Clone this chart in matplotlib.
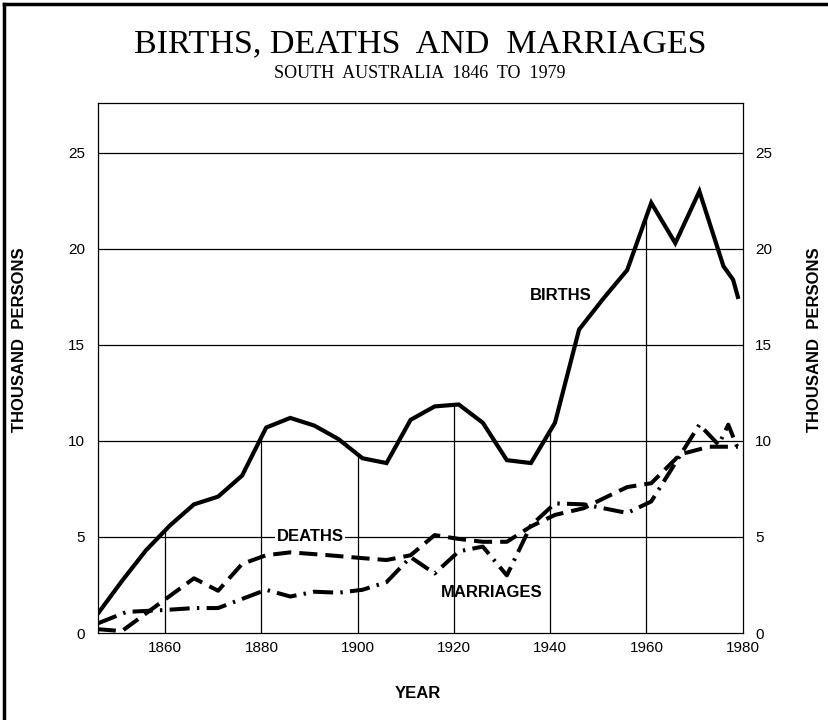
import numpy as np
import matplotlib
matplotlib.use('Agg')
import matplotlib.pyplot as plt
from matplotlib.lines import Line2D

# values, thousand persons
birth_years = [1846, 1851, 1856, 1861, 1866, 1871, 1876, 1881, 1886, 1891, 1896, 1901,
               1906, 1911, 1916, 1921, 1926, 1931, 1936, 1941, 1946, 1951, 1956, 1961,
               1966, 1971, 1976, 1978, 1979]
births = [1.0, 2.7, 4.3, 5.6, 6.7, 7.1, 8.2, 10.7, 11.2, 10.8, 10.1, 9.1,
          8.85, 11.1, 11.8, 11.9, 10.95, 9.0, 8.85, 10.95, 15.8, 17.4, 18.9, 22.4,
          20.3, 23.0, 19.1, 18.4, 17.5]

death_years = [1846, 1851, 1866, 1871, 1876, 1881, 1886, 1894, 1901, 1906, 1911, 1916,
               1921, 1926, 1931, 1936, 1941, 1947, 1951, 1956, 1961, 1967, 1973, 1979]
deaths = [0.2, 0.1, 2.85, 2.2, 3.6, 4.05, 4.2, 4.05, 3.9, 3.8, 4.05, 5.1,
          4.9, 4.75, 4.75, 5.55, 6.15, 6.5, 7.0, 7.6, 7.8, 9.3, 9.7, 9.7]

marriage_years = [1846, 1852, 1860, 1866, 1871, 1881, 1886, 1891, 1896, 1901, 1906, 1911,
                  1916, 1921, 1926, 1931, 1936, 1941, 1947, 1951, 1956, 1961, 1966, 1971,
                  1975, 1977, 1979]
marriages = [0.5, 1.1, 1.2, 1.3, 1.3, 2.25, 1.9, 2.15, 2.1, 2.25, 2.65, 3.95,
             3.1, 4.25, 4.5, 3.0, 5.6, 6.75, 6.7, 6.5, 6.25, 6.85, 8.85, 10.85,
             9.8, 10.85, 9.6]

x_ticks = [1860, 1880, 1900, 1920, 1940, 1960, 1980]
y_ticks = [0, 5, 10, 15, 20, 25]
grid_years = [1860, 1880, 1900, 1920, 1940, 1960]

fig = plt.figure(figsize=(8.29, 7.2), dpi=100)
ax = fig.add_axes([0.1179, 0.1208, 0.778, 0.7362])

# horizontal rules across, vertical rules only up to the births curve
for y in y_ticks[1:]:
    ax.axhline(y, color='black', lw=0.9, zorder=1)
ax.vlines(grid_years, 0, np.interp(grid_years, birth_years, births),
          color='black', lw=0.9, zorder=1)

ax.plot(birth_years, births, color='black', lw=3.0, solid_joinstyle='miter', zorder=3)
ax.plot(death_years, deaths, color='black', lw=2.9, linestyle=(0, (4.5, 2.0)), zorder=3)
ax.plot(marriage_years, marriages, color='black', lw=2.9,
        linestyle=(0, (5.0, 1.8, 0.6, 1.8)), zorder=3)

ax.set_xlim(1846, 1980)
ax.set_ylim(0, 27.6)
ax.set_xticks(x_ticks)
ax.set_yticks(y_ticks)
ax.tick_params(length=0, labelsize=11, pad=6)
ax.tick_params(axis='y', right=True, labelright=True, pad=9)
for lab in ax.get_xticklabels() + ax.get_yticklabels():
    lab.set_family('Liberation Sans')
for s in ax.spines.values():
    s.set_linewidth(0.9)

lab_font = dict(family='Liberation Sans', weight='bold', fontsize=12)
ax.text(1942.2, 17.6, 'BIRTHS', ha='center', va='center', **lab_font)
ax.text(1890.1, 5.0, 'DEATHS', ha='center', va='center', zorder=4,
        bbox=dict(facecolor='white', edgecolor='none', pad=1), **lab_font)
ax.text(1927.9, 2.1, 'MARRIAGES', ha='center', va='center', **lab_font)

fig.text(0.5066, 0.9385, 'BIRTHS, DEATHS  AND  MARRIAGES', ha='center', va='center',
         family='Liberation Serif', fontsize=24.5)
fig.text(0.5066, 0.898, 'SOUTH  AUSTRALIA  1846  TO  1979', ha='center', va='center',
         family='Liberation Serif', fontsize=13)
fig.text(0.5045, 0.0375, 'YEAR', ha='center', va='center', **lab_font)
fig.text(0.024, 0.528, 'THOUSAND  PERSONS', rotation=90, ha='center', va='center', **lab_font)
fig.text(0.983, 0.528, 'THOUSAND  PERSONS', rotation=90, ha='center', va='center', **lab_font)

# page frame (left and top only)
fig.add_artist(Line2D([0.005, 0.005], [0.0, 0.995], color='black', lw=2.5))
fig.add_artist(Line2D([0.005, 1.0], [0.995, 0.995], color='black', lw=2.5))

fig.savefig('out.png', dpi=100)
